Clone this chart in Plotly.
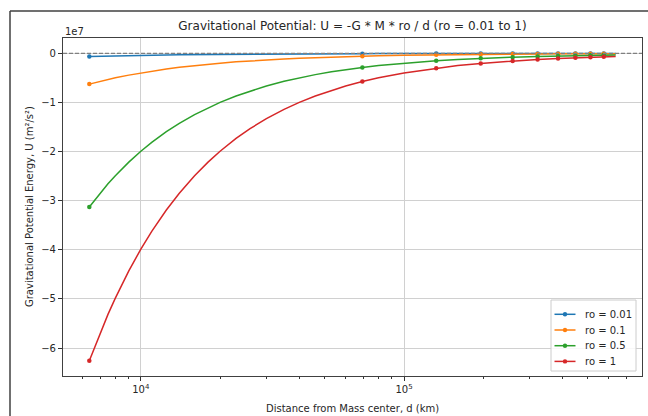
import plotly.graph_objects as go

# ---- data (values in units of 1e7 m^2/s^2) ----
d_km = [6371, 7000, 7500, 8000, 9000, 10000, 11000, 12500, 14000, 16000, 18000, 20000,
        23000, 26000, 30000, 35000, 40000, 46000, 53000, 60000, 69444, 80000, 100000,
        132517, 160000, 195590, 258663, 321736, 384809, 447882, 510955, 574028, 637100]

u_ro_001 = [-0.063, -0.057, -0.053, -0.050, -0.044, -0.040, -0.036, -0.032, -0.028, -0.025,
            -0.022, -0.020, -0.017, -0.015, -0.013, -0.011, -0.010, -0.009, -0.008, -0.007,
            -0.006, -0.005, -0.004, -0.003, -0.002, -0.002, -0.002, -0.001, -0.001, -0.001,
            -0.001, -0.001, -0.001]
u_ro_01 = [-0.626, -0.569, -0.531, -0.498, -0.443, -0.399, -0.362, -0.319, -0.285, -0.249,
           -0.221, -0.199, -0.173, -0.153, -0.133, -0.114, -0.100, -0.087, -0.075, -0.066,
           -0.057, -0.050, -0.040, -0.030, -0.025, -0.020, -0.015, -0.012, -0.010, -0.009,
           -0.008, -0.007, -0.006]
u_ro_05 = [-3.128, -2.847, -2.657, -2.491, -2.214, -1.993, -1.812, -1.594, -1.424, -1.246,
           -1.107, -0.997, -0.867, -0.767, -0.664, -0.569, -0.498, -0.433, -0.376, -0.332,
           -0.287, -0.249, -0.199, -0.150, -0.125, -0.102, -0.077, -0.062, -0.052, -0.045,
           -0.039, -0.035, -0.031]
u_ro_1 = [-6.257, -5.694, -5.315, -4.983, -4.429, -3.986, -3.624, -3.189, -2.847, -2.491,
          -2.214, -1.993, -1.733, -1.533, -1.329, -1.139, -0.997, -0.867, -0.752, -0.664,
          -0.574, -0.498, -0.399, -0.301, -0.249, -0.204, -0.154, -0.124, -0.104, -0.089,
          -0.078, -0.069, -0.063]

marker_d = [6371, 69444, 132517, 195590, 258663, 321736, 384809, 447882, 510955, 574028]

series_names = ["ro = 0.01", "ro = 0.1", "ro = 0.5", "ro = 1"]
series_values = [u_ro_001, u_ro_01, u_ro_05, u_ro_1]
series_colors = ["#1f77b4", "#ff7f0e", "#2ca02c", "#d62728"]

x_tickvals = [1e4, 1e5]
x_ticktext = ["10<sup>4</sup>", "10<sup>5</sup>"]
x_minor = [6000, 7000, 8000, 9000, 20000, 30000, 40000, 50000, 60000, 70000, 80000, 90000,
           200000, 300000, 400000, 500000, 600000, 700000]
y_tickvals = [0, -1, -2, -3, -4, -5, -6]
y_ticktext = ["0", "\u22121", "\u22122", "\u22123", "\u22124", "\u22125", "\u22126"]

title_text = "Gravitational Potential: U = -G * M * ro / d (ro = 0.01 to 1)"
x_title = "Distance from Mass center, d (km)"
y_title = "Gravitational Potential Energy, U (m\u00b2/s\u00b2)"

# ---- layout geometry ----
W, H = 648, 416
ML, MR, MT, MB = 63, 6, 38, 40
PW, PH = W - ML - MR, H - MT - MB
FONT = "DejaVu Sans"
TXT = "#262626"


def px_x(px):
    return (px - ML) / PW


def px_y(py):
    return (H - MB - py) / PH


fig = go.Figure()

marker_idx = [d_km.index(v) for v in marker_d]
for name, vals, col in zip(series_names, series_values, series_colors):
    fig.add_trace(go.Scatter(x=d_km, y=vals, mode="lines", line=dict(color=col, width=1.5),
                             name=name, showlegend=False, hoverinfo="skip"))
    fig.add_trace(go.Scatter(x=[d_km[i] for i in marker_idx], y=[vals[i] for i in marker_idx],
                             mode="markers", marker=dict(color=col, size=4.5),
                             name=name, showlegend=False, hoverinfo="skip"))

fig.update_layout(
    width=W, height=H,
    margin=dict(l=ML, r=MR, t=MT, b=MB, pad=0),
    paper_bgcolor="white", plot_bgcolor="white",
    font=dict(family=FONT, size=10, color=TXT),
    title=dict(text=title_text, font=dict(size=12, color=TXT), x=px_x(352.5), xref="paper",
               xanchor="center", y=1 - 26 / H, yref="container", yanchor="middle"),
    xaxis=dict(type="log", range=[3.7042, 5.9042], tickvals=x_tickvals, ticktext=x_ticktext,
               ticks="outside", ticklen=4, tickwidth=1, tickcolor="#333",
               showgrid=True, gridcolor="#d0d0d0", gridwidth=1,
               showline=True, linecolor="#404040", linewidth=1.2, mirror=True,
               zeroline=False, tickfont=dict(size=10, color=TXT),
               minor=dict(tickvals=x_minor, ticks="outside", ticklen=2, tickwidth=0.8,
                          tickcolor="#333", showgrid=False)),
    yaxis=dict(range=[-6.5694, 0.3128], tickvals=y_tickvals, ticktext=y_ticktext,
               ticks="outside", ticklen=4, tickwidth=1, tickcolor="#333",
               showgrid=True, gridcolor="#d0d0d0", gridwidth=1,
               showline=True, linecolor="#404040", linewidth=1.2, mirror=True,
               zeroline=False, tickfont=dict(size=10, color=TXT)),
    showlegend=False,
)

# horizontal dashed reference line at U = 0
fig.add_shape(type="line", xref="paper", x0=0, x1=1, yref="y", y0=0, y1=0,
              line=dict(color="#808080", width=1.3, dash="4px,2px"), layer="above")

# outer frame of the screenshot
fig.add_shape(type="line", xref="paper", yref="paper", x0=px_x(10), x1=px_x(10),
              y0=px_y(11), y1=px_y(H), line=dict(color="#404040", width=1.5))
fig.add_shape(type="line", xref="paper", yref="paper", x0=px_x(10), x1=px_x(W),
              y0=px_y(11), y1=px_y(11), line=dict(color="#404040", width=1.5))

# ---- legend drawn as in matplotlib ----
LX0, LX1, LY0, LY1 = 551, 636, 300, 371
fig.add_shape(type="rect", xref="paper", yref="paper", x0=px_x(LX0), x1=px_x(LX1),
              y0=px_y(LY1), y1=px_y(LY0), line=dict(color="#cccccc", width=1),
              fillcolor="rgba(255,255,255,0.85)", layer="above")
row_y = [314.3, 330.0, 345.7, 361.4]
for name, col, ry in zip(series_names, series_colors, row_y):
    fig.add_shape(type="line", xref="paper", yref="paper", x0=px_x(554.5), x1=px_x(575.5),
                  y0=px_y(ry), y1=px_y(ry), line=dict(color=col, width=1.5), layer="above")
    fig.add_shape(type="circle", xref="paper", yref="paper", xsizemode="pixel",
                  ysizemode="pixel", xanchor=px_x(565), yanchor=px_y(ry),
                  x0=-2.2, x1=2.2, y0=-2.2, y1=2.2, fillcolor=col,
                  line=dict(color=col, width=0), layer="above")
    fig.add_annotation(text=name, xref="paper", yref="paper", x=px_x(583), y=px_y(ry),
                       xanchor="left", yanchor="middle", showarrow=False,
                       font=dict(size=10, color=TXT))

# axis titles and offset text
fig.add_annotation(text=x_title, xref="paper", yref="paper", x=px_x(352.5), y=px_y(408),
                   xanchor="center", yanchor="middle", showarrow=False,
                   font=dict(size=10, color=TXT))
fig.add_annotation(text=y_title, xref="paper", yref="paper", x=px_x(29), y=0.5,
                   xanchor="center", yanchor="middle", textangle=-90, showarrow=False,
                   font=dict(size=10, color=TXT))
fig.add_annotation(text="1e7", xref="paper", yref="paper", x=0, y=px_y(31),
                   xanchor="left", yanchor="middle", showarrow=False,
                   font=dict(size=10, color=TXT))

fig.write_html("out.html")
